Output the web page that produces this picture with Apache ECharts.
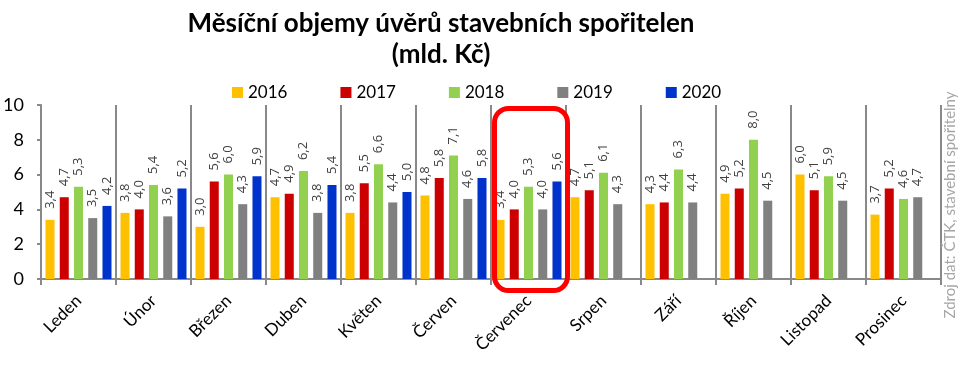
<!DOCTYPE html>
<html><head><meta charset="utf-8">
<script src="https://cdn.jsdelivr.net/npm/echarts@6/dist/echarts.min.js"></script>
<style>html,body{margin:0;padding:0;background:#fff}#c{width:963px;height:368px}</style>
</head><body><div id="c"></div>
<script>
const categories = ['Leden','Únor','Březen','Duben','Květen','Červen','Červenec','Srpen','Září','Říjen','Listopad','Prosinec'];
const years = ['2016','2017','2018','2019','2020'];
const s2016 = [3.4,3.8,3.0,4.7,3.8,4.8,3.4,4.7,4.3,4.9,6.0,3.7];
const s2017 = [4.7,4.0,5.6,4.9,5.5,5.8,4.0,5.1,4.4,5.2,5.1,5.2];
const s2018 = [5.3,5.4,6.0,6.2,6.6,7.1,5.3,6.1,6.3,8.0,5.9,4.6];
const s2019 = [3.5,3.6,4.3,3.8,4.4,4.6,4.0,4.3,4.4,4.5,4.5,4.7];
const s2020 = [4.2,5.2,5.9,5.4,5.0,5.8,5.6,null,null,null,null,null];
const yTicks = [0,2,4,6,8,10];
const colors = ['#FFC000','#CC0000','#92D050','#808080','#0033CC'];
const allSeries = [s2016,s2017,s2018,s2019,s2020];
const FONT = 'Lato, "Open Sans", sans-serif';

const chart = echarts.init(document.getElementById('c'), null, {renderer:'canvas'});
const option = {
  animation:false,
  title:{text:'Měsíční objemy úvěrů stavebních spořitelen\n(mld. Kč)', left:436, textAlign:'center', top:3,
    textStyle:{fontFamily:FONT, fontWeight:'bold', fontSize:26, lineHeight:31, color:'#000'}},
  legend:{data:years, left:227, top:79, itemWidth:11, itemHeight:11, itemGap:53, icon:'rect',
    textStyle:{fontFamily:FONT, fontSize:17, color:'#000'}},
  grid:{left:41, right:22, top:105, bottom:89, containLabel:false},
  xAxis:{type:'category', data:categories,
    axisLine:{lineStyle:{color:'#898989', width:2}},
    axisTick:{show:true, length:6, lineStyle:{color:'#898989', width:2}},
    splitLine:{show:true, lineStyle:{color:'#898989', width:2}},
    axisLabel:{rotate:45, fontFamily:FONT, fontSize:17, color:'#000', margin:19, interval:0}},
  yAxis:{type:'value', min:yTicks[0], max:yTicks[yTicks.length-1], interval:2,
    axisLine:{show:true, lineStyle:{color:'#898989', width:2}},
    axisTick:{show:true, length:4, lineStyle:{color:'#898989', width:2}},
    splitLine:{show:false},
    axisLabel:{fontFamily:FONT, fontSize:18, color:'#000', margin:17}},
  series: allSeries.map((d,i)=>({
    name:years[i], type:'bar', data:d, barGap:'58%', barCategoryGap:'12%',
    itemStyle:{color:colors[i]},
    label:{show:true, position:'top', rotate:90, align:'left', verticalAlign:'middle', distance:11,
      fontFamily:'"Open Sans", sans-serif', fontSize:13, color:'#404040',
      formatter:p=>p.value==null?'':p.value.toFixed(1).replace('.',','),}
  }))
};
chart.setOption(option);
// highlight rectangle around Červenec, computed from axis scales
const idx = categories.indexOf('Červenec');
const c0 = chart.convertToPixel({gridIndex:0},[idx, yTicks[yTicks.length-1]]);
const c1 = chart.convertToPixel({gridIndex:0},[idx+1, 0]);
const band = c1[0]-c0[0];
const bandL = c0[0]-band/2, bandR = c0[0]+band/2;
chart.setOption({graphic:[
  {type:'rect', shape:{x:bandL+3.5, y:c0[1]+3.5, width:(bandR+1.5)-(bandL+3.5), height:(c1[1]+11.5)-(c0[1]+3.5), r:14},
   style:{fill:'none', stroke:'#FF0000', lineWidth:5}, z:100},
  {type:'text', x:950, y:205, rotation:Math.PI/2,
   style:{text:'Zdroj dat: ČTK, stavební spořitelny', fill:'#A6A6A6', font:'15px '+FONT, align:'center', verticalAlign:'middle'}}
]});
</script></body></html>
